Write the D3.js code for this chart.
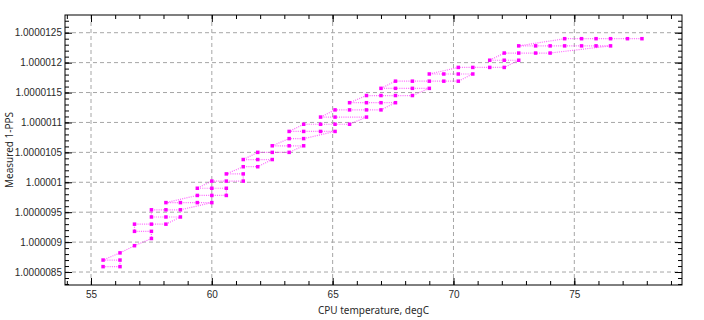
<!DOCTYPE html>
<html>
<head>
<meta charset="utf-8">
<script src="https://cdn.jsdelivr.net/npm/d3@7"></script>
<style>
    body { margin: 0; background: #fff; }
    svg { display: block; font-family: "Noto Sans", "DejaVu Sans", sans-serif; }
    .axis text { font-size: 10px; fill: #2a2a2a; }
    .axis path { display: none; }
    .axis line { stroke: #000; }
    .grid line { stroke: #a6a6a6; stroke-dasharray: 4,3; }
    .series-line { fill: none; stroke: #ff00ff; stroke-width: 1.2; stroke-dasharray: 1,1.2; opacity: 0.6; }
    .series-dot { fill: #ff00ff; }
    .title { font-size: 10px; fill: #2a2a2a; }
</style>
</head>
<body>
<div id="chart"></div>
<script>
// Temperature (degC) of each sample, in time order
const temps = [
    55.5, 56.2, 56.2, 55.5, 56.2, 56.8, 57.5,
    57.5, 56.8, 56.8, 57.5, 58.1,
    58.7, 58.1, 57.5, 57.5, 58.1, 58.7,
    60.0, 59.4, 58.7, 58.1,
    59.4, 60.0, 60.6, 60.6, 60.0, 59.4,
    60.0, 60.6, 61.3, 61.3, 60.6, 61.3, 61.9,
    62.5, 61.9, 61.3, 61.9, 62.5, 63.2,
    63.8, 63.2, 62.5, 63.2, 63.8,
    65.1, 64.5, 63.8, 63.2, 63.8, 64.5, 65.1, 65.7,
    66.4, 65.1, 64.5, 65.1, 65.7, 66.4, 67.0,
    67.6, 67.0, 66.4, 65.7, 66.4, 67.0, 67.6, 68.3,
    69.0, 68.3, 67.6, 67.0, 67.6, 68.3, 69.0, 69.6, 70.2,
    70.8, 70.2, 69.6, 69.0, 70.2, 70.8, 71.5, 72.1,
    72.7, 72.1, 71.5, 72.1, 72.7, 73.4, 74.0,
    76.5, 75.9, 75.3, 74.6, 74.0, 73.4, 72.7,
    74.6, 75.3, 75.9, 76.5, 77.2, 77.8
];

// Measured 1-PPS ratio, as ppm above 1 (1 + v * 1e-6)
const ppsPpm = [
    8.59, 8.59, 8.70, 8.70, 8.82, 8.94, 9.06,
    9.18, 9.18, 9.30, 9.30, 9.30,
    9.42, 9.42, 9.42, 9.54, 9.54, 9.54,
    9.66, 9.66, 9.66, 9.66,
    9.78, 9.78, 9.78, 9.90, 9.90, 9.90,
    10.02, 10.02, 10.02, 10.14, 10.14, 10.26, 10.26,
    10.38, 10.38, 10.38, 10.50, 10.50, 10.50,
    10.61, 10.61, 10.61, 10.73, 10.73,
    10.85, 10.85, 10.85, 10.85, 10.97, 10.97, 10.97, 10.97,
    11.09, 11.09, 11.09, 11.21, 11.21, 11.21, 11.21,
    11.33, 11.33, 11.33, 11.33, 11.45, 11.45, 11.45, 11.45,
    11.57, 11.57, 11.57, 11.57, 11.69, 11.69, 11.69, 11.69, 11.69,
    11.81, 11.81, 11.81, 11.81, 11.92, 11.92, 11.92, 11.92,
    12.04, 12.04, 12.04, 12.16, 12.16, 12.16, 12.16,
    12.28, 12.28, 12.28, 12.28, 12.28, 12.28, 12.28,
    12.40, 12.40, 12.40, 12.40, 12.40, 12.40
];

// Axis ticks
const xTicks = [55, 60, 65, 70, 75];
const xMinorTicks = d3.range(54, 80, 1);
const yTicks = [8.5, 9, 9.5, 10, 10.5, 11, 11.5, 12, 12.5];
const yTickLabels = ["1.0000085", "1.000009", "1.0000095", "1.00001", "1.0000105",
                     "1.000011", "1.0000115", "1.000012", "1.0000125"];
const yMinorTicks = d3.range(83, 128, 1).map(v => v / 10);

const width = 704;
const height = 320;
const margin = { top: 15, right: 22, bottom: 35, left: 65 };
const innerW = width - margin.left - margin.right;
const innerH = height - margin.top - margin.bottom;

const svg = d3.select("#chart").append("svg")
    .attr("width", width)
    .attr("height", height);

const g = svg.append("g")
    .attr("transform", `translate(${margin.left},${margin.top})`);

const x = d3.scaleLinear().domain([53.924, 79.457]).range([0, innerW]);
const y = d3.scaleLinear().domain([8.283, 12.796]).range([innerH, 0]);

// --- Grid (dashed) ---
g.append("g").attr("class", "grid")
    .selectAll("line").data(xTicks).join("line")
    .attr("x1", d => x(d)).attr("x2", d => x(d))
    .attr("y1", 0).attr("y2", innerH);

g.append("g").attr("class", "grid")
    .selectAll("line").data(yTicks).join("line")
    .attr("x1", 0).attr("x2", innerW)
    .attr("y1", d => y(d)).attr("y2", d => y(d));

// --- Axes, ticks pointing inward on all four sides ---
const fmtY = d => yTickLabels[yTicks.indexOf(d)];

g.append("g").attr("class", "axis")
    .attr("transform", `translate(0,${innerH})`)
    .call(d3.axisBottom(x).tickValues(xTicks).tickSize(-7).tickPadding(6).tickFormat(d3.format("d")));
g.append("g").attr("class", "axis")
    .attr("transform", `translate(0,${innerH})`)
    .call(d3.axisBottom(x).tickValues(xMinorTicks).tickSize(-4).tickFormat(""));
g.append("g").attr("class", "axis")
    .call(d3.axisTop(x).tickValues(xTicks).tickSize(-7).tickFormat(""));
g.append("g").attr("class", "axis")
    .call(d3.axisTop(x).tickValues(xMinorTicks).tickSize(-4).tickFormat(""));

g.append("g").attr("class", "axis")
    .call(d3.axisLeft(y).tickValues(yTicks).tickSize(-7).tickPadding(3).tickFormat(fmtY));
g.append("g").attr("class", "axis")
    .call(d3.axisLeft(y).tickValues(yMinorTicks).tickSize(-4).tickFormat(""));
g.append("g").attr("class", "axis")
    .attr("transform", `translate(${innerW},0)`)
    .call(d3.axisRight(y).tickValues(yTicks).tickSize(-7).tickFormat(""));
g.append("g").attr("class", "axis")
    .attr("transform", `translate(${innerW},0)`)
    .call(d3.axisRight(y).tickValues(yMinorTicks).tickSize(-4).tickFormat(""));

// Frame
g.append("rect")
    .attr("width", innerW).attr("height", innerH)
    .attr("fill", "none").attr("stroke", "#000").attr("stroke-width", 1);

// --- Data ---
const points = temps.map((t, i) => ({ t: t, v: ppsPpm[i] }));

g.append("path")
    .datum(points)
    .attr("class", "series-line")
    .attr("d", d3.line().x(d => x(d.t)).y(d => y(d.v)));

g.append("g")
    .selectAll("rect")
    .data(points)
    .join("rect")
    .attr("class", "series-dot")
    .attr("x", d => x(d.t) - 1.75)
    .attr("y", d => y(d.v) - 1.75)
    .attr("width", 3.5)
    .attr("height", 3.5);

// --- Axis titles ---
svg.append("text").attr("class", "title")
    .attr("x", margin.left + innerW / 2)
    .attr("y", 314)
    .attr("text-anchor", "middle")
    .text("CPU temperature, degC");

svg.append("text").attr("class", "title")
    .attr("transform", `translate(13,${margin.top + innerH / 2}) rotate(-90)`)
    .attr("text-anchor", "middle")
    .text("Measured 1-PPS");
</script>
</body>
</html>
